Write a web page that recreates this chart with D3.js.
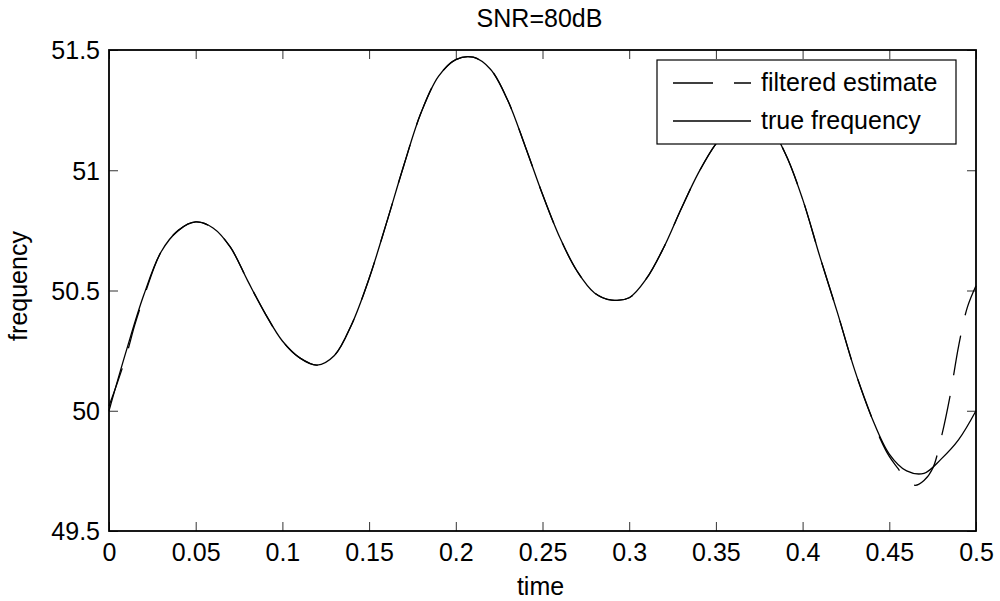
<!DOCTYPE html>
<html>
<head>
<meta charset="utf-8">
<script src="https://cdn.jsdelivr.net/npm/d3@7"></script>
<style>
  html, body { margin: 0; padding: 0; background: #fff; }
  svg { display: block; font-family: "Liberation Sans", Arial, Helvetica, sans-serif; }
</style>
</head>
<body>
<svg id="chart" width="1000" height="601"></svg>
<script>
// ---- data ----
const timeTrue = [0, 0.01, 0.02, 0.03, 0.04, 0.05, 0.06, 0.07, 0.08, 0.09,
  0.10, 0.11, 0.12, 0.13, 0.14, 0.15, 0.16, 0.17, 0.18, 0.19,
  0.20, 0.21, 0.22, 0.23, 0.24, 0.25, 0.26, 0.27, 0.28, 0.29,
  0.30, 0.31, 0.32, 0.33, 0.34, 0.35, 0.36, 0.37, 0.38, 0.39,
  0.40, 0.41, 0.42, 0.43, 0.44, 0.45, 0.46, 0.47, 0.48, 0.49, 0.50];
const trueFrequency = [50.00, 50.25, 50.48, 50.66, 50.75, 50.785, 50.76, 50.68, 50.54, 50.405,
  50.29, 50.22, 50.19, 50.23, 50.36, 50.55, 50.78, 51.02, 51.24, 51.39,
  51.46, 51.47, 51.42, 51.29, 51.10, 50.90, 50.72, 50.58, 50.49, 50.46,
  50.47, 50.55, 50.68, 50.84, 50.99, 51.11, 51.19, 51.22, 51.19, 51.07,
  50.88, 50.64, 50.41, 50.17, 49.97, 49.82, 49.75, 49.74, 49.80, 49.88, 50.00];

const timeFiltered = [0, 0.005, 0.01, 0.015, 0.02, 0.03, 0.04, 0.05, 0.06, 0.07, 0.08, 0.09,
  0.10, 0.11, 0.12, 0.13, 0.14, 0.15, 0.16, 0.17, 0.18, 0.19,
  0.20, 0.21, 0.22, 0.23, 0.24, 0.25, 0.26, 0.27, 0.28, 0.29,
  0.30, 0.31, 0.32, 0.33, 0.34, 0.35, 0.36, 0.37, 0.38, 0.39,
  0.40, 0.41, 0.42, 0.43, 0.44, 0.445, 0.45, 0.455, 0.46, 0.465, 0.47, 0.475,
  0.48, 0.485, 0.49, 0.495, 0.50];
const filteredEstimate = [50.02, 50.12, 50.23, 50.36, 50.47, 50.66, 50.75, 50.785, 50.76, 50.68, 50.54, 50.405,
  50.29, 50.22, 50.19, 50.23, 50.36, 50.55, 50.78, 51.02, 51.24, 51.39,
  51.46, 51.47, 51.42, 51.29, 51.10, 50.90, 50.72, 50.58, 50.49, 50.46,
  50.47, 50.55, 50.68, 50.84, 50.99, 51.11, 51.19, 51.22, 51.19, 51.07,
  50.88, 50.64, 50.41, 50.17, 49.97, 49.88, 49.81, 49.76, 49.71, 49.69, 49.71, 49.76,
  49.89, 50.06, 50.27, 50.43, 50.52];

const xTicks = [0, 0.05, 0.1, 0.15, 0.2, 0.25, 0.3, 0.35, 0.4, 0.45, 0.5];
const xTickLabels = ["0", "0.05", "0.1", "0.15", "0.2", "0.25", "0.3", "0.35", "0.4", "0.45", "0.5"];
const yTicks = [49.5, 50, 50.5, 51, 51.5];
const yTickLabels = ["49.5", "50", "50.5", "51", "51.5"];

const titleText = "SNR=80dB";
const xLabel = "time";
const yLabel = "frequency";
const legendLabels = ["filtered estimate", "true frequency"];

// ---- layout ----
const L = 109, T = 50, R = 976, B = 531;
const fontSize = 25;
const svg = d3.select("#chart");

const x = d3.scaleLinear().domain([0, 0.5]).range([L, R]);
const y = d3.scaleLinear().domain([49.5, 51.5]).range([B, T]);

// ticks (inside, all four sides)
const tickLen = 9;
const gx = svg.append("g").attr("transform", `translate(0,${B})`)
  .call(d3.axisBottom(x).tickValues(xTicks).tickSizeInner(-tickLen).tickSizeOuter(0)
    .tickPadding(0).tickFormat((d, i) => xTickLabels[i]));
gx.select(".domain").remove();
gx.selectAll("line").attr("stroke", "#333").attr("stroke-width", 1);
gx.selectAll("text").attr("font-size", fontSize).attr("fill", "#000")
  .attr("y", 30).attr("dy", 0).attr("font-family", "Liberation Sans, Arial, sans-serif");

const gxt = svg.append("g").attr("transform", `translate(0,${T})`)
  .call(d3.axisTop(x).tickValues(xTicks).tickSizeInner(-tickLen).tickSizeOuter(0).tickFormat(""));
gxt.select(".domain").remove();
gxt.selectAll("line").attr("stroke", "#333").attr("stroke-width", 1);

const gy = svg.append("g").attr("transform", `translate(${L},0)`)
  .call(d3.axisLeft(y).tickValues(yTicks).tickSizeInner(-tickLen).tickSizeOuter(0)
    .tickPadding(0).tickFormat((d, i) => yTickLabels[i]));
gy.select(".domain").remove();
gy.selectAll("line").attr("stroke", "#333").attr("stroke-width", 1);
gy.selectAll("text").attr("font-size", fontSize).attr("fill", "#000")
  .attr("x", -9).attr("dy", "0.35em").attr("font-family", "Liberation Sans, Arial, sans-serif");

const gyr = svg.append("g").attr("transform", `translate(${R},0)`)
  .call(d3.axisRight(y).tickValues(yTicks).tickSizeInner(-tickLen).tickSizeOuter(0).tickFormat(""));
gyr.select(".domain").remove();
gyr.selectAll("line").attr("stroke", "#333").attr("stroke-width", 1);

// lines
const lineTrue = d3.line().x((d, i) => x(timeTrue[i])).y(d => y(d)).curve(d3.curveCatmullRom.alpha(0.5));
const lineFilt = d3.line().x((d, i) => x(timeFiltered[i])).y(d => y(d)).curve(d3.curveCatmullRom.alpha(0.5));

svg.append("path").datum(trueFrequency).attr("d", lineTrue)
  .attr("fill", "none").attr("stroke", "#000").attr("stroke-width", 1.3);
svg.append("path").datum(filteredEstimate).attr("d", lineFilt)
  .attr("fill", "none").attr("stroke", "#000").attr("stroke-width", 1.3)
  .attr("stroke-dasharray", "40,21");

// box
svg.append("rect").attr("x", L).attr("y", T).attr("width", R - L).attr("height", B - T)
  .attr("fill", "none").attr("stroke", "#000").attr("stroke-width", 1.8);

// legend
const lg = svg.append("g");
lg.append("rect").attr("x", 657).attr("y", 60).attr("width", 299).attr("height", 84)
  .attr("fill", "#fff").attr("stroke", "#000").attr("stroke-width", 1.2);
const rowsY = [83, 121];
const dashes = ["40,21", null];
legendLabels.forEach((lab, i) => {
  const ln = lg.append("line").attr("x1", 673).attr("x2", 751).attr("y1", rowsY[i]).attr("y2", rowsY[i])
    .attr("stroke", "#000").attr("stroke-width", 1.3);
  if (dashes[i]) ln.attr("stroke-dasharray", dashes[i]);
  lg.append("text").attr("x", 761).attr("y", rowsY[i] + 8).attr("font-size", fontSize)
    .attr("fill", "#000").text(lab);
});

// titles
svg.append("text").attr("x", (L + R) / 2 - 3).attr("y", 27).attr("text-anchor", "middle")
  .attr("font-size", fontSize).attr("fill", "#000").text(titleText);
svg.append("text").attr("x", (L + R) / 2 - 2).attr("y", 595).attr("text-anchor", "middle")
  .attr("font-size", fontSize).attr("fill", "#000").text(xLabel);
svg.append("text").attr("transform", "translate(27,286) rotate(-90)").attr("text-anchor", "middle")
  .attr("font-size", fontSize).attr("fill", "#000").text(yLabel);
</script>
</body>
</html>
